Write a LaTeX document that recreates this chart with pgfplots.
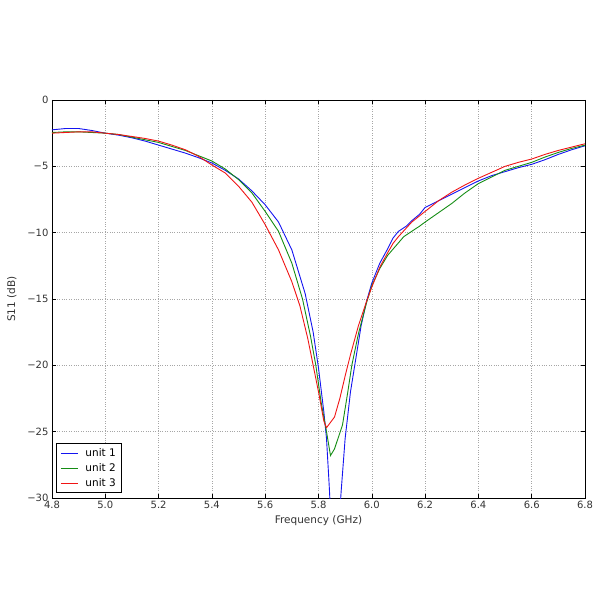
\documentclass[border=0pt]{standalone}
\usepackage{pgfplots}
\pgfplotsset{compat=1.18}
\usepackage{fontspec}
\setmainfont{DejaVu Sans}
\definecolor{mplblue}{RGB}{20,20,240}
\definecolor{mplgreen}{RGB}{20,140,20}
\definecolor{mplred}{RGB}{240,20,20}
\begin{document}
\begin{tikzpicture}[x=1pt,y=1pt]
\path (-52,-102) rectangle (548,498);
\begin{axis}[
  at={(0,0)}, anchor=south west,
  scale only axis, width=533pt, height=398pt,
  xmin=4.8, xmax=6.8, ymin=-30, ymax=0,
  xtick={4.8,5.0,5.2,5.4,5.6,5.8,6.0,6.2,6.4,6.6,6.8},
  xticklabels={4.8,5.0,5.2,5.4,5.6,5.8,6.0,6.2,6.4,6.6,6.8},
  ytick={-30,-25,-20,-15,-10,-5,0},
  yticklabels={−30,−25,−20,−15,−10,−5,0},
  tick align=inside,
  major tick length=4pt,
  tick style={black, line width=0.5pt},
  grid=major,
  major grid style={dotted, gray!70, line width=0.6pt},
  axis line style={black, line width=0.8pt},
  ticklabel style={font=\fontsize{10}{11}\selectfont, text=black!80},
  xlabel={Frequency (GHz)}, ylabel={S11 (dB)},
  label style={font=\fontsize{10.5}{11}\selectfont, text=black!80},
  xlabel style={yshift=0pt},
  ylabel style={yshift=4pt},
  legend cell align=left,
  legend style={at={(0.0075,0.012)}, anchor=south west, draw=black, line width=0.8pt,
    font=\fontsize{10.5}{12}\selectfont, inner xsep=4pt, inner ysep=3pt, row sep=1.5pt, column sep=5pt},
  legend image post style={line width=1pt},
]
\addplot[mplblue, line width=0.9pt] coordinates {
(4.80,-2.25)(4.85,-2.15)(4.90,-2.15)(4.95,-2.3)(5.00,-2.5)(5.05,-2.65)(5.10,-2.85)(5.15,-3.1)(5.20,-3.4)(5.25,-3.7)(5.30,-4.0)(5.35,-4.35)(5.40,-4.75)(5.45,-5.3)(5.50,-5.95)(5.55,-6.85)(5.60,-7.9)(5.65,-9.2)(5.70,-11.3)(5.75,-14.6)(5.78,-17.5)(5.80,-20.2)(5.82,-23.5)(5.83,-25.5)(5.84,-29)(5.845,-31)(5.88,-31)(5.885,-29.5)(5.90,-25.5)(5.92,-22)(5.94,-19.5)(5.96,-17)(5.98,-15.2)(6.00,-13.8)(6.03,-12.3)(6.06,-11.2)(6.08,-10.4)(6.10,-9.9)(6.13,-9.5)(6.15,-9.1)(6.18,-8.6)(6.20,-8.1)(6.25,-7.6)(6.30,-7.1)(6.35,-6.6)(6.40,-6.1)(6.45,-5.7)(6.50,-5.4)(6.55,-5.1)(6.60,-4.85)(6.65,-4.5)(6.70,-4.1)(6.75,-3.75)(6.80,-3.45)
};
\addlegendentry{unit 1}
\addplot[mplgreen, line width=0.9pt] coordinates {
(4.80,-2.45)(4.85,-2.4)(4.90,-2.4)(4.95,-2.45)(5.00,-2.5)(5.05,-2.6)(5.10,-2.8)(5.15,-3.0)(5.20,-3.2)(5.25,-3.5)(5.30,-3.8)(5.35,-4.2)(5.40,-4.6)(5.45,-5.2)(5.50,-6.0)(5.55,-7.0)(5.60,-8.4)(5.65,-9.9)(5.70,-12.3)(5.74,-15.0)(5.77,-17.8)(5.79,-20)(5.81,-22.8)(5.83,-25)(5.845,-26.8)(5.86,-26.3)(5.87,-25.7)(5.89,-24.5)(5.91,-22)(5.925,-20)(5.95,-17.6)(5.98,-15.3)(6.00,-14.0)(6.03,-12.7)(6.06,-11.7)(6.09,-11.0)(6.12,-10.3)(6.15,-9.9)(6.18,-9.5)(6.20,-9.2)(6.25,-8.5)(6.30,-7.8)(6.35,-7.0)(6.40,-6.3)(6.45,-5.8)(6.50,-5.3)(6.55,-5.0)(6.60,-4.7)(6.65,-4.3)(6.70,-3.95)(6.75,-3.65)(6.80,-3.4)
};
\addlegendentry{unit 2}
\addplot[mplred, line width=0.9pt] coordinates {
(4.80,-2.5)(4.85,-2.45)(4.90,-2.4)(4.95,-2.4)(5.00,-2.5)(5.05,-2.6)(5.10,-2.75)(5.15,-2.9)(5.20,-3.1)(5.25,-3.4)(5.30,-3.75)(5.35,-4.25)(5.40,-4.9)(5.45,-5.5)(5.50,-6.5)(5.55,-7.7)(5.60,-9.4)(5.65,-11.3)(5.70,-13.7)(5.73,-15.5)(5.76,-18)(5.78,-20)(5.80,-22)(5.82,-24.2)(5.83,-24.7)(5.845,-24.3)(5.86,-23.9)(5.88,-22.5)(5.90,-20.8)(5.92,-19.2)(5.95,-17)(5.98,-15.2)(6.00,-14.1)(6.03,-12.6)(6.06,-11.5)(6.08,-10.8)(6.10,-10.3)(6.15,-9.2)(6.20,-8.4)(6.25,-7.6)(6.30,-6.95)(6.35,-6.4)(6.40,-5.9)(6.45,-5.45)(6.50,-5.0)(6.55,-4.7)(6.60,-4.45)(6.65,-4.1)(6.70,-3.8)(6.75,-3.55)(6.80,-3.3)
};
\addlegendentry{unit 3}
\end{axis}
\end{tikzpicture}
\end{document}
